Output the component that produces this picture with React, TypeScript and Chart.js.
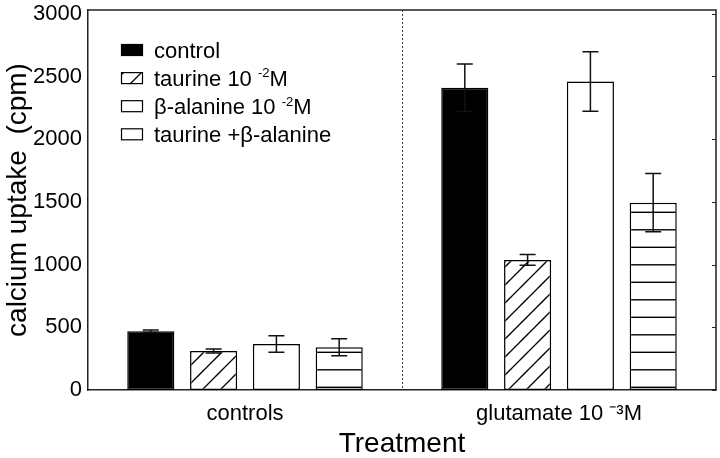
import React, { useEffect, useRef } from 'react';
import { Chart, registerables } from 'chart.js';

Chart.register(...registerables);

const categories = ['controls', 'glutamate 10 ⁻³M'];
const seriesLabels = ['control', 'taurine 10 ⁻²M', 'β-alanine 10 ⁻²M', 'taurine +β-alanine'];
const controlValues = [468, 2410];
const controlErrors = [10, 190];
const taurineValues = [311, 1037];
const taurineErrors = [15, 43];
const alanineValues = [367, 2460];
const alanineErrors = [66, 238];
const comboValues = [341, 1494];
const comboErrors = [68, 233];
const yTickValues = [0, 500, 1000, 1500, 2000, 2500, 3000];
const yAxisTop = 3030;
const yTitle = 'calcium uptake  (cpm)';
const xTitle = 'Treatment';

const FONT = '"Liberation Sans", Arial, Helvetica, sans-serif';
const SUP_MAP: Record<string, string> = { '⁻': '-', '⁰': '0', '¹': '1', '²': '2', '³': '3', '⁴': '4', '⁵': '5', '⁶': '6', '⁷': '7', '⁸': '8', '⁹': '9' };

function makeDiagPattern(ctx: CanvasRenderingContext2D) {
  const p = 18;
  const c = document.createElement('canvas');
  c.width = p; c.height = p;
  const g = c.getContext('2d')!;
  g.fillStyle = '#fff';
  g.fillRect(0, 0, p, p);
  g.strokeStyle = '#000';
  g.lineWidth = 1.3;
  for (let k = -2; k <= 3; k++) {
    const s = 16 + p * k;
    g.beginPath();
    g.moveTo(s + 4, -4);
    g.lineTo(s - p - 4, p + 4);
    g.stroke();
  }
  return ctx.createPattern(c, 'repeat')!;
}

function makeHorizPattern(ctx: CanvasRenderingContext2D) {
  const c = document.createElement('canvas');
  c.width = 8; c.height = 35;
  const g = c.getContext('2d')!;
  g.fillStyle = '#fff';
  g.fillRect(0, 0, 8, 35);
  g.strokeStyle = '#000';
  g.lineWidth = 1.4;
  [2.3, 19.8].forEach((y) => {
    g.beginPath();
    g.moveTo(0, y);
    g.lineTo(8, y);
    g.stroke();
  });
  return ctx.createPattern(c, 'repeat')!;
}

function drawRich(ctx: CanvasRenderingContext2D, text: string, x: number, cy: number, size: number) {
  const runs: { t: string; sup: boolean }[] = [];
  for (const ch of text) {
    const sup = ch in SUP_MAP;
    const t = sup ? SUP_MAP[ch] : ch;
    const last = runs[runs.length - 1];
    if (last && last.sup === sup) last.t += t;
    else runs.push({ t, sup });
  }
  const base = cy + size * 0.35;
  let cx = x;
  ctx.textBaseline = 'alphabetic';
  ctx.textAlign = 'left';
  ctx.fillStyle = '#000';
  runs.forEach((r) => {
    if (r.sup) {
      ctx.font = `${Math.round(size * 0.6)}px ${FONT}`;
      ctx.fillText(r.t, cx, base - size * 0.38);
    } else {
      ctx.font = `${size}px ${FONT}`;
      ctx.fillText(r.t, cx, base);
    }
    cx += ctx.measureText(r.t).width;
  });
}

const seriesErrors = [controlErrors, taurineErrors, alanineErrors, comboErrors];

const errorBarPlugin = {
  id: 'errorBars',
  afterDatasetsDraw(chart: any) {
    const ctx = chart.ctx;
    const ys = chart.scales.y;
    chart.data.datasets.forEach((ds: any, i: number) => {
      const meta = chart.getDatasetMeta(i);
      meta.data.forEach((bar: any, j: number) => {
        const v = ds.data[j];
        const e = seriesErrors[i][j];
        const yT = ys.getPixelForValue(v + e);
        const yB = ys.getPixelForValue(v - e);
        ctx.save();
        ctx.strokeStyle = '#111';
        ctx.lineWidth = 1.5;
        ctx.beginPath();
        ctx.moveTo(bar.x, yT); ctx.lineTo(bar.x, yB);
        ctx.moveTo(bar.x - 8, yT); ctx.lineTo(bar.x + 8, yT);
        ctx.moveTo(bar.x - 8, yB); ctx.lineTo(bar.x + 8, yB);
        ctx.stroke();
        ctx.restore();
      });
    });
  },
};

const framePlugin = {
  id: 'frame',
  afterDraw(chart: any) {
    const { ctx, chartArea: a } = chart;
    const ys = chart.scales.y;
    ctx.save();
    ctx.strokeStyle = '#222';
    ctx.lineWidth = 1.5;
    ctx.beginPath();
    ctx.moveTo(a.left, a.top); ctx.lineTo(a.right, a.top); ctx.lineTo(a.right, a.bottom);
    ctx.stroke();
    ctx.lineWidth = 1;
    ctx.beginPath();
    yTickValues.forEach((v) => {
      const y = Math.round(ys.getPixelForValue(v)) + 0.5;
      ctx.moveTo(a.right - 4, y); ctx.lineTo(a.right, y);
    });
    ctx.stroke();
    ctx.restore();
  },
};

const legendPlugin = {
  id: 'innerLegend',
  afterDraw(chart: any) {
    const { ctx, chartArea: a } = chart;
    const x0 = a.left + 33;
    const y0 = a.top + 40;
    const rowH = 28.1;
    chart.data.datasets.forEach((ds: any, i: number) => {
      const cy = y0 + i * rowH;
      ctx.save();
      ctx.fillStyle = ds.backgroundColor;
      ctx.fillRect(x0, cy - 6, 22, 12);
      ctx.strokeStyle = '#000';
      ctx.lineWidth = 1.2;
      ctx.strokeRect(x0 + 0.5, cy - 5.5, 21, 11);
      drawRich(ctx, ds.label, x0 + 33, cy, 22);
      ctx.restore();
    });
  },
};

export default function App() {
  const ref = useRef<HTMLCanvasElement>(null);
  useEffect(() => {
    document.body.style.margin = '0';
    const canvas = ref.current!;
    const ctx = canvas.getContext('2d')!;
    const diag = makeDiagPattern(ctx);
    const horiz = makeHorizPattern(ctx);
    Chart.defaults.font.family = FONT;
    Chart.defaults.color = '#000';
    const common = { borderColor: '#000', borderWidth: 1.5, borderSkipped: false as const, barPercentage: 0.75, categoryPercentage: 0.8 };
    const chart = new Chart(canvas, {
      type: 'bar',
      data: {
        labels: categories,
        datasets: [
          { label: seriesLabels[0], data: controlValues, backgroundColor: '#000', ...common },
          { label: seriesLabels[1], data: taurineValues, backgroundColor: diag as any, ...common },
          { label: seriesLabels[2], data: alanineValues, backgroundColor: '#fff', ...common },
          { label: seriesLabels[3], data: comboValues, backgroundColor: horiz as any, ...common },
        ],
      },
      options: {
        responsive: false,
        animation: false,
        layout: { padding: { top: 10, right: 4, left: 0, bottom: 0 } },
        plugins: { legend: { display: false }, tooltip: { enabled: false } },
        scales: {
          x: {
            grid: {
              display: true,
              drawTicks: false,
              drawOnChartArea: true,
              offset: true,
              lineWidth: 1,
              color: (c: any) => (c.index === 1 ? '#444' : 'rgba(0,0,0,0)'),
            },
            border: { display: true, color: '#222', width: 1.5, dash: [2, 2] },
            ticks: { font: { size: 22 }, color: '#000', padding: 11, maxRotation: 0, autoSkip: false },
            title: { display: true, text: xTitle, font: { size: 28, lineHeight: 1.0 }, color: '#000', padding: { top: 0, bottom: 0 } },
            afterFit: (s: any) => { s.height = 68; s.paddingLeft = 0; s.paddingRight = 0; },
          },
          y: {
            min: 0,
            max: yAxisTop,
            afterBuildTicks: (s: any) => { s.ticks = yTickValues.map((v) => ({ value: v })); },
            grid: { display: false, drawTicks: false },
            border: { display: true, color: '#222', width: 1.5 },
            ticks: { font: { size: 22 }, color: '#000', padding: 6, callback: (v: any) => String(v) },
            title: { display: true, text: yTitle, font: { size: 28, lineHeight: 1.2 }, color: '#000', padding: { top: 1, bottom: 0 } },
            afterFit: (s: any) => { s.width = 88; s.paddingTop = 0; s.paddingBottom = 0; },
          },
        },
      },
      plugins: [errorBarPlugin, framePlugin, legendPlugin],
    });
    return () => chart.destroy();
  }, []);
  return (
    <div style={{ width: 720, height: 458 }}>
      <canvas ref={ref} width={720} height={458} style={{ display: 'block', width: 720, height: 458 }} />
    </div>
  );
}
